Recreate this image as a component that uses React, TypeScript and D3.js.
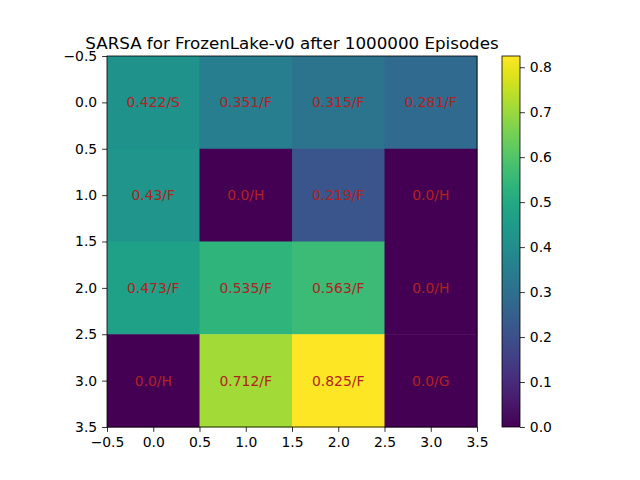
import { useEffect, useRef } from "react";
import * as d3 from "d3";

const values = [
  [0.422, 0.351, 0.315, 0.281],
  [0.43, 0.0, 0.219, 0.0],
  [0.473, 0.535, 0.563, 0.0],
  [0.0, 0.712, 0.825, 0.0],
];
const cellLabels = [
  ["0.422/S", "0.351/F", "0.315/F", "0.281/F"],
  ["0.43/F", "0.0/H", "0.219/F", "0.0/H"],
  ["0.473/F", "0.535/F", "0.563/F", "0.0/H"],
  ["0.0/H", "0.712/F", "0.825/F", "0.0/G"],
];
const axisTicks = [-0.5, 0, 0.5, 1, 1.5, 2, 2.5, 3, 3.5];
const cbarTicks = [0, 0.1, 0.2, 0.3, 0.4, 0.5, 0.6, 0.7, 0.8];

const App = () => {
  const ref = useRef<SVGSVGElement>(null);

  useEffect(() => {
    if (!ref.current) return;
    const svg = d3.select(ref.current);
    svg.selectAll("*").remove();

    const left = 107, right = 477, top = 56, bottom = 427;
    const fmt = (v: number) => v.toFixed(1).replace("-", "\u2212");
    const font = "DejaVu Sans, sans-serif";

    const x = d3.scaleLinear().domain([-0.5, 3.5]).range([left, right]);
    const y = d3.scaleLinear().domain([-0.5, 3.5]).range([top, bottom]);
    const vmax = d3.max(values.flat()) as number;
    const color = d3.scaleSequential(d3.interpolateViridis).domain([0, vmax]);

    const cells = values.flatMap((row, r) => row.map((v, c) => ({ r, c, v, label: cellLabels[r][c] })));

    svg.append("g").selectAll("rect").data(cells).enter().append("rect")
      .attr("x", (d) => x(d.c - 0.5))
      .attr("y", (d) => y(d.r - 0.5))
      .attr("width", x(0.5) - x(-0.5) + 0.5)
      .attr("height", y(0.5) - y(-0.5) + 0.5)
      .attr("fill", (d) => color(d.v));

    svg.append("g").selectAll("text").data(cells).enter().append("text")
      .attr("x", (d) => x(d.c))
      .attr("y", (d) => y(d.r))
      .attr("text-anchor", "middle")
      .attr("dominant-baseline", "central")
      .attr("font-family", font)
      .attr("font-size", 13.9)
      .attr("fill", "#b22222")
      .text((d) => d.label);

    svg.append("rect").attr("x", left).attr("y", top).attr("width", right - left).attr("height", bottom - top)
      .attr("fill", "none").attr("stroke", "black").attr("stroke-width", 0.8);

    const xAxis = svg.append("g").attr("transform", `translate(0,${bottom})`)
      .call(d3.axisBottom(x).tickValues(axisTicks).tickFormat((d) => fmt(d as number)).tickSize(4.9).tickPadding(4.9));
    const yAxis = svg.append("g").attr("transform", `translate(${left},0)`)
      .call(d3.axisLeft(y).tickValues(axisTicks).tickFormat((d) => fmt(d as number)).tickSize(4.9).tickPadding(4.9));
    [xAxis, yAxis].forEach((a) => {
      a.select(".domain").remove();
      a.selectAll("text").attr("font-size", 13.9).attr("font-family", font).attr("fill", "black");
      a.selectAll("line").attr("stroke", "black").attr("stroke-width", 0.8);
    });

    // Colorbar
    const cbL = 502, cbR = 520;
    const cy = d3.scaleLinear().domain([0, vmax]).range([bottom, top]);
    const defs = svg.append("defs");
    const grad = defs.append("linearGradient").attr("id", "cb").attr("x1", 0).attr("x2", 0).attr("y1", 1).attr("y2", 0);
    d3.range(0, 1.001, 0.05).forEach((t) => {
      grad.append("stop").attr("offset", t).attr("stop-color", d3.interpolateViridis(t));
    });
    svg.append("rect").attr("x", cbL).attr("y", top).attr("width", cbR - cbL).attr("height", bottom - top)
      .attr("fill", "url(#cb)").attr("stroke", "black").attr("stroke-width", 0.8);
    const cAxis = svg.append("g").attr("transform", `translate(${cbR},0)`)
      .call(d3.axisRight(cy).tickValues(cbarTicks).tickFormat((d) => (d as number).toFixed(1)).tickSize(4.9).tickPadding(4.9));
    cAxis.select(".domain").remove();
    cAxis.selectAll("text").attr("font-size", 13.9).attr("font-family", font).attr("fill", "black");
    cAxis.selectAll("line").attr("stroke", "black").attr("stroke-width", 0.8);

    svg.append("text").attr("x", (left + right) / 2).attr("y", top - 7)
      .attr("text-anchor", "middle").attr("font-family", font).attr("font-size", 16.7)
      .text("SARSA for FrozenLake-v0 after 1000000 Episodes");
  }, []);

  return <svg ref={ref} width={640} height={480} style={{ position: "absolute", left: 0, top: 0, background: "white" }} />;
};

export default App;
